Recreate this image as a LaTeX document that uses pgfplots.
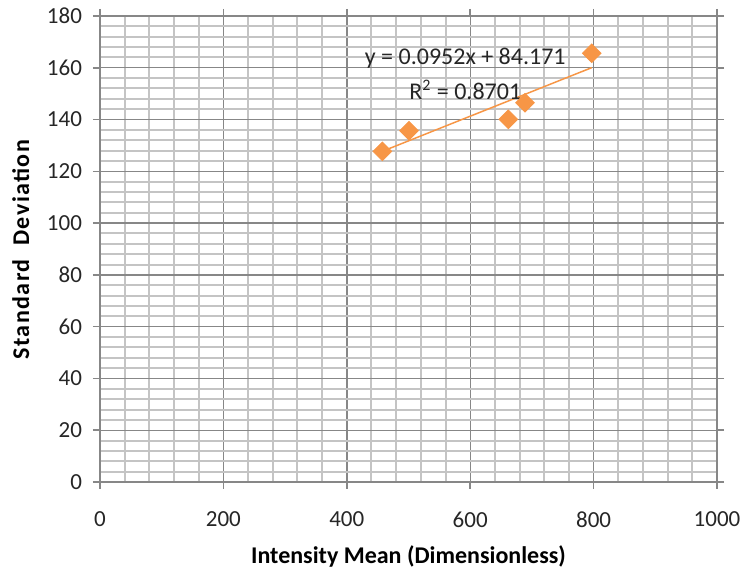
\documentclass[border=0pt]{standalone}
\usepackage{fontspec}
\setmainfont{Carlito}
\usepackage{pgfplots}
\pgfplotsset{compat=1.18}
\definecolor{xlorange}{HTML}{F79646}
\definecolor{majgrid}{HTML}{878787}
\definecolor{mingrid}{HTML}{C4C4C4}
\begin{document}
\begin{tikzpicture}
\useasboundingbox (-50pt,-45pt) rectangle (322.5pt,241pt);
\begin{axis}[
  at={(0,0)}, anchor=south west,
  scale only axis, width=308.5pt, height=233pt,
  xmin=0, xmax=1000, ymin=0, ymax=180,
  xtick={0,200,...,1000}, ytick={0,20,...,180},
  minor x tick num=4, minor y tick num=4,
  grid=both,
  major grid style={majgrid, line width=0.7pt},
  minor grid style={mingrid, line width=1pt},
  axis line style={majgrid, line width=0.8pt},
  tick align=outside,
  major tick length=3.5pt, minor tick length=0pt,
  major tick style={majgrid, line width=0.8pt},
  tick label style={font=\fontsize{11.5}{13}\selectfont, text=black!85},
  /pgf/number format/assume math mode=true,
  /pgf/number format/1000 sep={},
  xticklabel style={yshift=-8pt},
  yticklabel style={xshift=-2pt},
  xlabel={\textbf{Intensity Mean (Dimensionless)}},
  ylabel={\addfontfeatures{LetterSpace=6}\textbf{Standard\ \ Deviation}},
  label style={font=\fontsize{12}{14}\selectfont},
  xlabel style={yshift=-2pt},
  ylabel style={yshift=2pt},
  clip=false,
]
\addplot[only marks, mark=square*, mark size=3.3pt, color=xlorange,
  mark options={rotate=45, fill=xlorange, draw=xlorange}]
  coordinates {(457.6,127.7) (500.8,135.7) (661.8,140.1) (688.8,146.5) (796.9,165.6)};
\addplot[color=xlorange, line width=0.75pt]
  coordinates {(457.6,127.73) (796.9,160.04)};
\node[font=\fontsize{12}{14}\selectfont, text=black!85] at (axis cs:592,163.5) {y = 0.0952x + 84.171};
\node[font=\fontsize{12}{14}\selectfont, text=black!85] at (axis cs:592,151.5) {R\textsuperscript{2} = 0.8701};
\end{axis}
\end{tikzpicture}
\end{document}
